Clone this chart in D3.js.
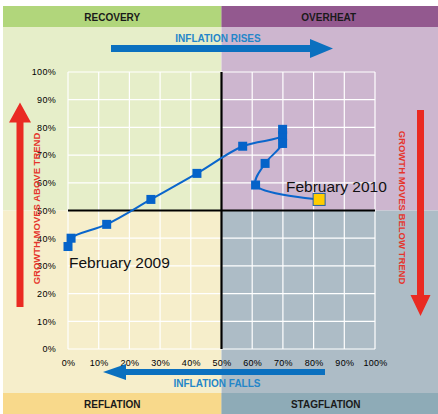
<!DOCTYPE html>
<html>
<head>
<meta charset="utf-8">
<script src="https://cdn.jsdelivr.net/npm/d3@7"></script>
<style>
  html, body { margin: 0; padding: 0; background: #fff; }
  svg { display: block; font-family: "Liberation Sans", Arial, sans-serif; }
</style>
</head>
<body>
<svg id="chart" width="438" height="414"></svg>
<script>
// ---- data ----
const quadrantNames = ["RECOVERY", "OVERHEAT", "REFLATION", "STAGFLATION"];
const inflationPct = [0, 1, 12.6, 27, 42, 56.9, 69.9, 69.9, 69.9, 64.2, 61.1, 81.8];
const growthPct    = [37, 40, 45, 54, 63.4, 73.2, 77, 79.3, 74.2, 67, 59.2, 54];
const tickValues = [0, 10, 20, 30, 40, 50, 60, 70, 80, 90, 100];
const pointLabels = ["February 2009", "February 2010"];
const arrowTexts = ["INFLATION RISES", "INFLATION FALLS", "GROWTH MOVES ABOVE TREND", "GROWTH MOVES BELOW TREND"];

// ---- layout ----
const W = 438, H = 414;
const svg = d3.select("#chart");
const x = d3.scaleLinear().domain([0, 100]).range([68, 375]);
const y = d3.scaleLinear().domain([0, 100]).range([349, 72]);
const midX = x(50), midY = y(50);
const panelLeft = 3, panelTop = 6, bandH = 21, bottomBandTop = 393;

// quadrant backgrounds
const bg = svg.append("g");
bg.append("rect").attr("x", panelLeft).attr("y", panelTop).attr("width", midX - panelLeft).attr("height", midY - panelTop).attr("fill", "#e6eec9");
bg.append("rect").attr("x", midX).attr("y", panelTop).attr("width", W - midX).attr("height", midY - panelTop).attr("fill", "#cdb6cf");
bg.append("rect").attr("x", panelLeft).attr("y", midY).attr("width", midX - panelLeft).attr("height", H - midY).attr("fill", "#f6eecb");
bg.append("rect").attr("x", midX).attr("y", midY).attr("width", W - midX).attr("height", H - midY).attr("fill", "#adbcc6");
// bands
bg.append("rect").attr("x", panelLeft).attr("y", panelTop).attr("width", midX - panelLeft).attr("height", bandH).attr("fill", "#b1d67b");
bg.append("rect").attr("x", midX).attr("y", panelTop).attr("width", W - midX).attr("height", bandH).attr("fill", "#93598f");
bg.append("rect").attr("x", panelLeft).attr("y", bottomBandTop).attr("width", midX - panelLeft).attr("height", H - bottomBandTop).attr("fill", "#f8d98b");
bg.append("rect").attr("x", midX).attr("y", bottomBandTop).attr("width", W - midX).attr("height", H - bottomBandTop).attr("fill", "#8eabb7");

const bandLabel = (t, cx, cy) => svg.append("text").attr("x", cx).attr("y", cy)
  .attr("text-anchor", "middle").attr("font-size", 10).attr("font-weight", "bold")
  .attr("fill", "#1a1a1a").text(t);
bandLabel(quadrantNames[0], (panelLeft + midX) / 2, 21);
bandLabel(quadrantNames[1], (midX + W) / 2 - 1, 21);
bandLabel(quadrantNames[2], (panelLeft + midX) / 2, 408);
bandLabel(quadrantNames[3], (midX + W) / 2 - 4, 408);

// grid
const grid = svg.append("g").attr("stroke", "#fff").attr("stroke-width", 1.2);
tickValues.forEach(v => {
  grid.append("line").attr("x1", x(v)).attr("x2", x(v)).attr("y1", y(0)).attr("y2", y(100));
  grid.append("line").attr("y1", y(v)).attr("y2", y(v)).attr("x1", x(0)).attr("x2", x(100));
});

// axes (labels only)
const fmt = d => d + "%";
const yAxis = svg.append("g").attr("transform", `translate(${x(0) - 9},0)`)
  .call(d3.axisLeft(y).tickValues(tickValues).tickSize(0).tickFormat(fmt));
const xAxis = svg.append("g").attr("transform", `translate(0,${y(0) + 8})`)
  .call(d3.axisBottom(x).tickValues(tickValues).tickSize(0).tickFormat(fmt));
[xAxis, yAxis].forEach(a => {
  a.select(".domain").remove();
  a.selectAll("text").attr("font-size", 9).attr("fill", "#000")
    .attr("font-family", "'Liberation Sans', Arial, sans-serif").attr("letter-spacing", 0.3);
});

// black 50% lines
svg.append("line").attr("x1", x(0)).attr("x2", x(100)).attr("y1", midY).attr("y2", midY)
  .attr("stroke", "#000").attr("stroke-width", 2.2);
svg.append("line").attr("x1", midX).attr("x2", midX).attr("y1", y(100)).attr("y2", y(0))
  .attr("stroke", "#000").attr("stroke-width", 2.2);

// arrows
function hArrow(x0, x1, cy, shaft, headLen, headH, color) {
  const dir = Math.sign(x1 - x0);
  const hb = x1 - dir * headLen;
  const p = d3.path();
  p.moveTo(x0, cy - shaft / 2); p.lineTo(hb, cy - shaft / 2); p.lineTo(hb, cy - headH / 2);
  p.lineTo(x1, cy); p.lineTo(hb, cy + headH / 2); p.lineTo(hb, cy + shaft / 2);
  p.lineTo(x0, cy + shaft / 2); p.closePath();
  svg.append("path").attr("d", p.toString()).attr("fill", color);
}
function vArrow(y0, y1, cx, shaft, headLen, headW, color) {
  const dir = Math.sign(y1 - y0);
  const hb = y1 - dir * headLen;
  const p = d3.path();
  p.moveTo(cx - shaft / 2, y0); p.lineTo(cx - shaft / 2, hb); p.lineTo(cx - headW / 2, hb);
  p.lineTo(cx, y1); p.lineTo(cx + headW / 2, hb); p.lineTo(cx + shaft / 2, hb);
  p.lineTo(cx + shaft / 2, y0); p.closePath();
  svg.append("path").attr("d", p.toString()).attr("fill", color);
}
const blue = "#0b70bf", red = "#ea2a22";
hArrow(111, 333, 48.5, 7, 23, 19, blue);
hArrow(325, 103, 372, 6, 23, 16, blue);
vArrow(307, 102.5, 20, 7, 20, 22, red);
vArrow(110, 316, 420.5, 7, 21, 20, red);

svg.append("text").attr("x", 218).attr("y", 42).attr("text-anchor", "middle")
  .attr("font-size", 10).attr("font-weight", "bold").attr("fill", "#2486c9").text(arrowTexts[0]);
svg.append("text").attr("x", 217).attr("y", 387).attr("text-anchor", "middle")
  .attr("font-size", 10).attr("font-weight", "bold").attr("fill", "#2486c9").text(arrowTexts[1]);
svg.append("text").attr("transform", `translate(40,${midY - 2}) rotate(-90)`).attr("text-anchor", "middle")
  .attr("font-size", 9.5).attr("font-weight", "bold").attr("fill", "#e5352c").text(arrowTexts[2]);
svg.append("text").attr("transform", `translate(399,${midY - 3}) rotate(90)`).attr("text-anchor", "middle")
  .attr("font-size", 9.5).attr("font-weight", "bold").attr("fill", "#e5352c").text(arrowTexts[3]);

// series
const pts = inflationPct.map((v, i) => [x(v), y(growthPct[i])]);
svg.append("path").attr("d", d3.line().curve(d3.curveCatmullRom.alpha(0.5))(pts))
  .attr("fill", "none").attr("stroke", "#0a66cc").attr("stroke-width", 2);
const last = pts.length - 1;
svg.selectAll("rect.pt").data(pts.slice(0, last)).enter().append("rect").attr("class", "pt")
  .attr("x", d => d[0] - 4.5).attr("y", d => d[1] - 4.5).attr("width", 9).attr("height", 9)
  .attr("fill", "#0563c9");
svg.append("rect").attr("x", pts[last][0] - 6).attr("y", pts[last][1] - 6).attr("width", 12).attr("height", 12)
  .attr("fill", "#ffcc00").attr("stroke", "#1f5fa8").attr("stroke-width", 1);

svg.append("text").attr("x", x(inflationPct[0]) + 1).attr("y", 268).attr("font-size", 15.5)
  .attr("fill", "#111").text(pointLabels[0]);
svg.append("text").attr("x", 286).attr("y", 191.5).attr("font-size", 15.5)
  .attr("fill", "#111").text(pointLabels[1]);
</script>
</body>
</html>
